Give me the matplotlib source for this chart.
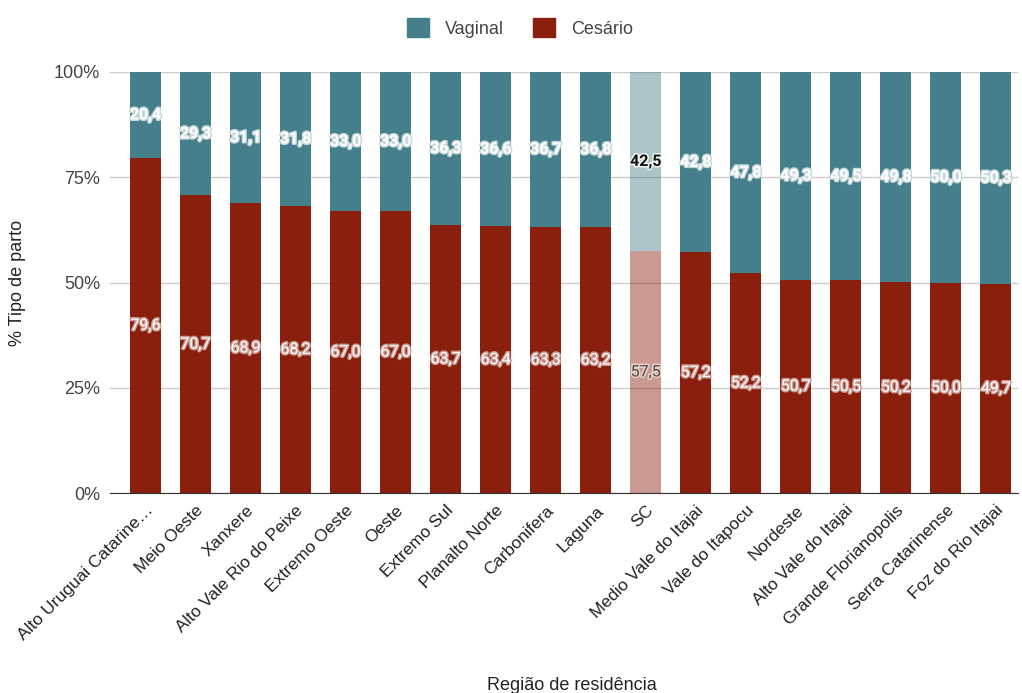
import numpy as np
import matplotlib.pyplot as plt
import matplotlib.patheffects as pe

## Data
regioes = ["Alto Uruguai Catarine…", "Meio Oeste", "Xanxere", "Alto Vale Rio do Peixe",
           "Extremo Oeste", "Oeste", "Extremo Sul", "Planalto Norte", "Carbonifera", "Laguna",
           "SC", "Medio Vale do Itajai", "Vale do Itapocu", "Nordeste", "Alto Vale do Itajai",
           "Grande Florianopolis", "Serra Catarinense", "Foz do Rio Itajai"]
vaginal = [20.4, 29.3, 31.1, 31.8, 33.0, 33.0, 36.3, 36.6, 36.7, 36.8,
           42.5, 42.8, 47.8, 49.3, 49.5, 49.8, 50.0, 50.3]
cesario = [79.6, 70.7, 68.9, 68.2, 67.0, 67.0, 63.7, 63.4, 63.3, 63.2,
           57.5, 57.2, 52.2, 50.7, 50.5, 50.2, 50.0, 49.7]
destaque = "SC"

cor_vag = "#457f8c"
cor_ces = "#8a1f0e"

fig = plt.figure(figsize=(10.22, 6.93), dpi=100)
ax = fig.add_axes([110/1022, 1-493/693, 908/1022, 421/693])

x = np.arange(len(regioes))
for i, r in enumerate(regioes):
    a = 0.45 if r == destaque else 1.0
    ax.bar(x[i], cesario[i], width=0.62, color=cor_ces, alpha=a, zorder=3)
    ax.bar(x[i], vaginal[i], bottom=cesario[i], width=0.62, color=cor_vag, alpha=a, zorder=3)

    # labels in middle of each segment
    if r == destaque:
        tc_v, tc_c = "#111111", "#444444"
        halo_v, halo_c = "#eef3f4", "#ecd2cd"
    else:
        tc_v, tc_c = "white", "white"
        halo_v, halo_c = "#c9dadd", "#c99a92"
    t = ax.text(x[i], cesario[i] + vaginal[i]/2, f"{vaginal[i]:.1f}".replace(".", ","),
                ha="center", va="center", fontsize=11.5, fontweight="bold", color=tc_v,
                family="Roboto", zorder=5)
    t.set_path_effects([pe.withStroke(linewidth=2.2, foreground=halo_v)])
    t = ax.text(x[i], cesario[i]/2, f"{cesario[i]:.1f}".replace(".", ","),
                ha="center", va="center", fontsize=11.5, color=tc_c,
                family="Roboto", zorder=5)
    t.set_path_effects([pe.withStroke(linewidth=2.2, foreground=halo_c)])

ax.set_xlim(-0.71, 17.44)
ax.set_ylim(0, 100)
ax.set_yticks([0, 25, 50, 75, 100])
ax.set_yticklabels(["0%", "25%", "50%", "75%", "100%"], fontsize=13, color="#444444",
                   family="Liberation Sans")
ax.set_xticks(x)
ax.set_xticklabels(regioes, rotation=45, ha="right", rotation_mode="anchor", fontsize=12.5,
                   color="#222222", family="Liberation Sans")
ax.tick_params(axis="both", length=0, pad=7)
ax.grid(axis="y", color="#cccccc", linewidth=1, zorder=0)
for s in ["top", "right", "left"]:
    ax.spines[s].set_visible(False)
ax.spines["bottom"].set_color("#333333")
ax.spines["bottom"].set_zorder(4)

ax.set_ylabel("% Tipo de parto", fontsize=13, color="#222222", family="Liberation Sans",
              labelpad=20)
fig.text(572/1022, 1-685/693, "Região de residência", ha="center", va="center",
         fontsize=13, color="#222222", family="Liberation Sans")

## legend
h1 = plt.Rectangle((0, 0), 1, 1, color=cor_vag)
h2 = plt.Rectangle((0, 0), 1, 1, color=cor_ces)
leg = fig.legend([h1, h2], ["Vaginal", "Cesário"], loc="center", bbox_to_anchor=(520/1022, 1-28/693),
                 ncol=2, frameon=False, handlelength=1.2, handleheight=1.2, handletextpad=0.9,
                 columnspacing=1.6, prop={"family": "Liberation Sans", "size": 13})
for t in leg.get_texts():
    t.set_color("#444444")

plt.savefig("out.png", dpi=100)
